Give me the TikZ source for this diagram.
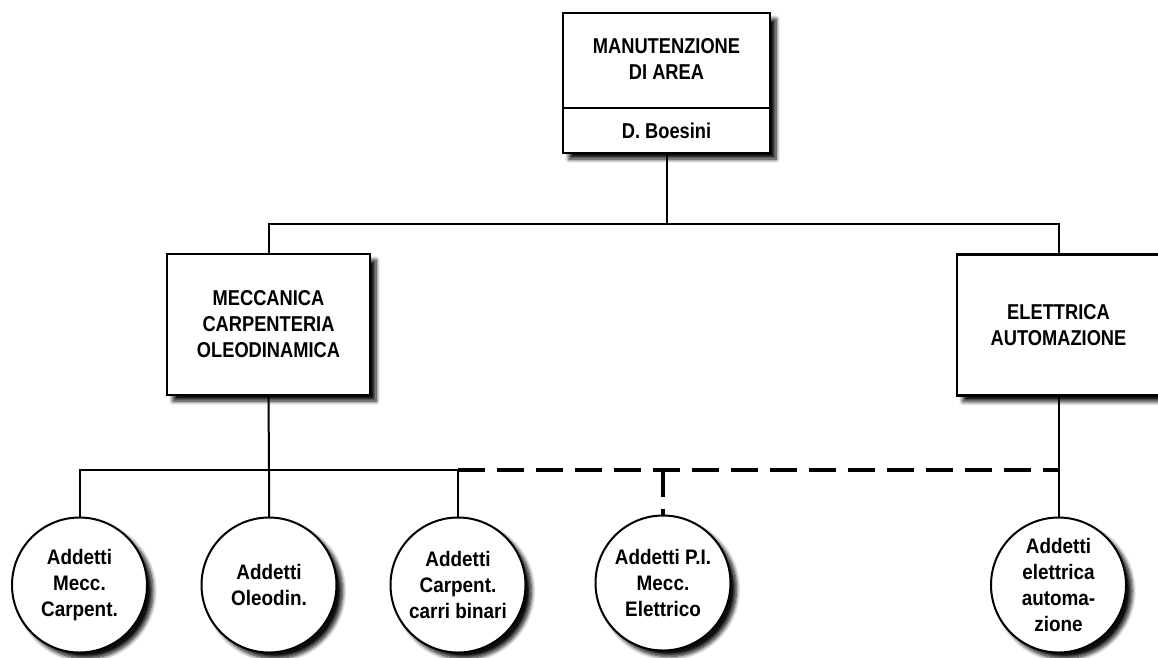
\documentclass[tikz,border=0pt]{standalone}
\usepackage{fontspec}
\setmainfont{Liberation Sans}[UprightFont=*-Bold, FakeStretch=0.9]
\newfontfamily\boxfont{Liberation Sans}[UprightFont=*-Bold, FakeStretch=0.85]
\usetikzlibrary{shadows.blur}
\tikzset{
	shade/.style={blur shadow={shadow xshift=6pt, shadow yshift=-6pt, shadow blur steps=8, shadow blur radius=4pt, shadow opacity=95}},
	unitbox/.style={draw, line width=2.6pt, fill=white, inner sep=0pt, outer sep=0pt, align=center,
		minimum width=203pt, minimum height=141pt, font=\boxfont\fontsize{21.5}{26}\selectfont, shade},
	staff/.style={draw, circle, line width=2pt, fill=white, inner sep=0pt, outer sep=0pt, align=center,
		minimum size=135pt, font=\fontsize{21}{26}\selectfont, shade},
	conn/.style={line width=2pt},
	dashconn/.style={line width=3.3pt, dash pattern=on 27pt off 12pt},
}

\begin{document}
\begin{tikzpicture}[x=1pt, y=-1pt]
		%%%%% START %%%%%
		\useasboundingbox (0,0) rectangle (1158,657);
		
		% top box
		\node[unitbox, minimum width=207pt, minimum height=140pt] (area) at (666.5,83) {};
		\node[font=\boxfont\fontsize{21.5}{26}\selectfont, align=center] (areaname) at (666.5,59) {MANUTENZIONE\\DI AREA};
		\coordinate (split) at (666.5,108);
		\draw[conn] (split -| area.west) -- (split -| area.east);
		\node[font=\boxfont\fontsize{21.5}{26}\selectfont] (areahead) at (666.5,131) {D. Boesini};
		
		% second level
		\node[unitbox] (mec) at (268.5,324.5) {MECCANICA\\CARPENTERIA\\OLEODINAMICA};
		\node[unitbox] (ele) at (1058.5,325) {ELETTRICA\\AUTOMAZIONE};
		
		% staff
		\node[staff] (mecc) at (79.5,585) {Addetti\\Mecc.\\Carpent.};
		\node[staff] (oleo) at (269,585) {Addetti\\Oleodin.};
		\node[staff] (carr) at (458,585) {Addetti\\Carpent.\\carri binari};
		\node[staff] (pi) at (663,583) {Addetti P.I.\\Mecc.\\Elettrico};
		\node[staff] (elet) at (1058.5,585) {Addetti\\elettrica\\automa-\\zione};
		
		% connectors
		\coordinate (bus1) at (666.5,224);
		\coordinate (bus2) at (268.5,470);
		\draw[conn] (area.south) -- (bus1);
		\draw[conn] (mec.north) |- (bus1) -| (ele.north);
		\draw[conn] (mec.south) -- (bus2 -| oleo.north) -- (oleo.north);
		\draw[conn] (mecc.north) |- (bus2) -| (carr.north);
		\draw[dashconn] (carr.north |- bus2) -- (ele.south |- bus2);
		\draw[dashconn] (pi.north |- bus2) -- (pi.north);
		\draw[conn] (ele.south) -- (elet.north);
		%%%%% END %%%%%
\end{tikzpicture}
\end{document}
